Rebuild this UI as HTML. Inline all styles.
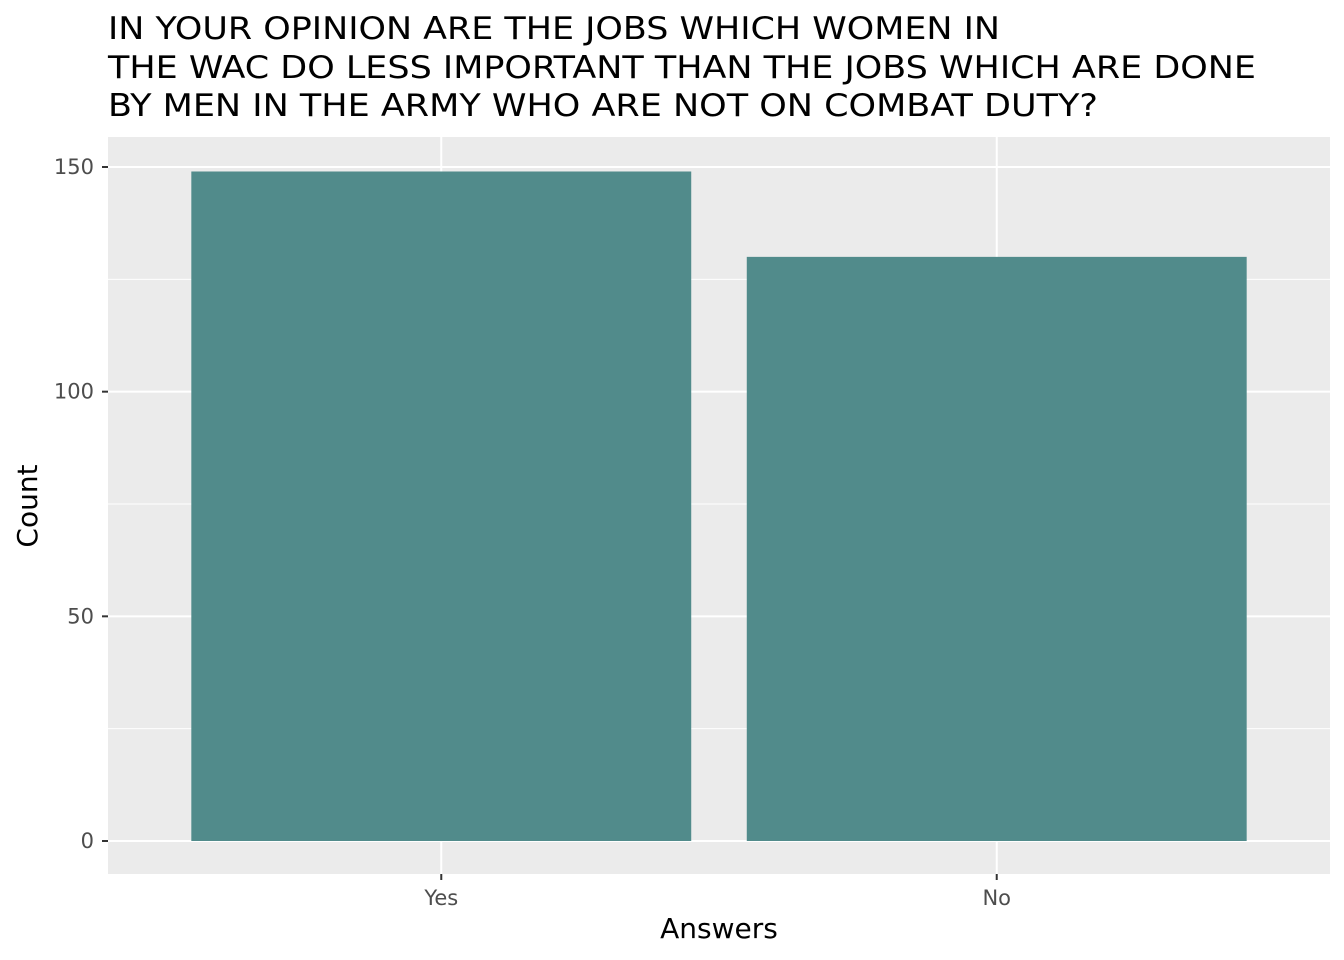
<!DOCTYPE html>
<html><head><meta charset="utf-8"><style>
body{margin:0;background:#fff;}
svg{display:block;font-family:"DejaVu Sans","Liberation Sans",sans-serif;}
</style></head><body>
<svg id="chart" width="1344" height="960">
<g font-size="31" fill="#000">
<text x="108" y="39" textLength="892" lengthAdjust="spacingAndGlyphs">IN YOUR OPINION ARE THE JOBS WHICH WOMEN IN</text>
<text x="108" y="78" textLength="1148" lengthAdjust="spacingAndGlyphs">THE WAC DO LESS IMPORTANT THAN THE JOBS WHICH ARE DONE</text>
<text x="108" y="116" textLength="990" lengthAdjust="spacingAndGlyphs">BY MEN IN THE ARMY WHO ARE NOT ON COMBAT DUTY?</text>
</g>
<rect x="108" y="137" width="1222" height="737" fill="#ebebeb"/>
<g id="grid"></g><g id="bars"></g><g id="axes"></g>
<text x="719" y="938" font-size="28" text-anchor="middle">Answers</text>
<text transform="translate(37,506) rotate(-90)" font-size="28" text-anchor="middle">Count</text>
</svg>
<script>
const categories=["Yes","No"];
const counts=[149,130];
const yTicks=[0,50,100,150];
const NS="http://www.w3.org/2000/svg";
const px0=108,px1=1330,y0=841,pxPerUnit=(841-167)/150;
const y=v=>y0-v*pxPerUnit;
const unit=(px1-px0)/(categories.length-1+1.2);
const x=i=>px0+unit*(0.6+i);
function mk(p,t,a){const e=document.createElementNS(NS,t);for(const k in a)e.setAttribute(k,a[k]);p.appendChild(e);return e;}
const grid=document.getElementById('grid'),bars=document.getElementById('bars'),axes=document.getElementById('axes');
for(let k=0;k<yTicks.length-1;k++){const m=(yTicks[k]+yTicks[k+1])/2;
 const l=mk(grid,'line',{x1:px0,x2:px1,y1:y(m),y2:y(m),stroke:'#fff','stroke-width':1});
 
 }
yTicks.forEach(v=>{
 const l=mk(grid,'line',{x1:px0,x2:px1,y1:y(v),y2:y(v),stroke:'#fff','stroke-width':2});
 
 
 const t=mk(axes,'line',{x1:102,x2:108,y1:y(v),y2:y(v),stroke:'#333','stroke-width':2});
 
 
 const tx=mk(axes,'text',{x:94,y:y(v)+7,'font-size':21,fill:'#4d4d4d','text-anchor':'end'});
 tx.textContent=v;
 
 
});
categories.forEach((c,i)=>{
 const l=mk(grid,'line',{x1:x(i),x2:x(i),y1:137,y2:874,stroke:'#fff','stroke-width':2});
 
 
 const w=unit*0.9;
 const b=mk(bars,'rect',{x:x(i)-w/2,y:y(counts[i]),width:w,height:y(0)-y(counts[i]),fill:'#518b8b'});
 
 
 const t=mk(axes,'line',{x1:x(i),x2:x(i),y1:874,y2:880,stroke:'#333','stroke-width':2});
 
 
 const tx=mk(axes,'text',{x:x(i),y:905,'font-size':21,fill:'#4d4d4d','text-anchor':'middle'});
 tx.textContent=c;
 
 
});
</script>
</body></html>
